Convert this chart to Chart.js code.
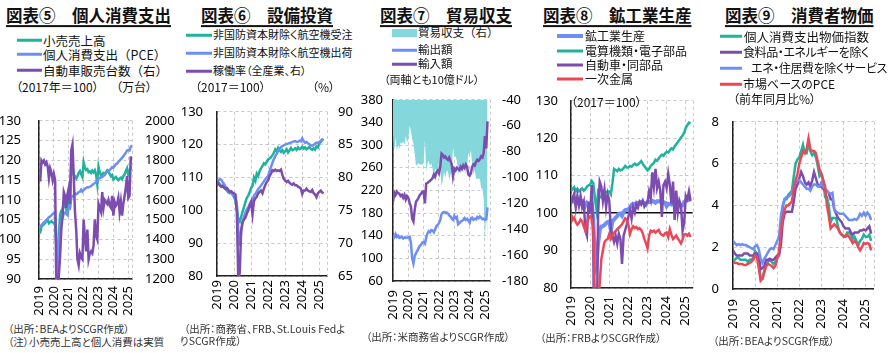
<!DOCTYPE html>
<html>
<head>
<meta charset="utf-8">
<script src="https://cdn.jsdelivr.net/npm/chart.js@4.4.1/dist/chart.umd.min.js"></script>
<style>
body{margin:0;width:892px;height:353px;position:relative;background:#fff;overflow:hidden;
  font-family:"Noto Sans CJK JP",sans-serif;color:#111}
canvas{position:absolute}
.t{position:absolute;white-space:nowrap;line-height:1.2;transform:translateY(-50%);font-size:12px}
.p{font-feature-settings:"palt"}
.ttl{font-size:16.5px;font-weight:bold;text-decoration:underline;text-decoration-thickness:1.5px;text-underline-offset:3px}
.sw{position:absolute;height:2.5px;transform:translateY(-50%)}
.src{font-size:10.5px;color:#333;font-feature-settings:"palt"}
</style>
</head>
<body>
<canvas id="c1" width="180" height="225" style="left:0;top:95px"></canvas>
<canvas id="c2" width="180" height="232" style="left:180px;top:90px"></canvas>
<canvas id="c3" width="175" height="245" style="left:360px;top:80px"></canvas>
<canvas id="c4" width="175" height="250" style="left:535px;top:80px"></canvas>
<canvas id="c5" width="182" height="232" style="left:710px;top:100px"></canvas>

<!-- 図表⑤ -->
<div class="t ttl" style="left:6px;top:16px">図表⑤　個人消費支出</div>
<div class="sw" style="left:17px;width:25px;top:40px;background:#1db39c"></div>
<div class="t" style="left:43px;top:40px;font-size:12.5px">小売売上高</div>
<div class="sw" style="left:17px;width:25px;top:54px;background:#6e8ef5"></div>
<div class="t" style="left:43px;top:54px;font-size:12.5px">個人消費支出（PCE）</div>
<div class="sw" style="left:17px;width:25px;top:70px;background:#7d4cb0"></div>
<div class="t" style="left:43px;top:70px;font-size:12.5px">自動車販売台数（右）</div>
<div class="t p" style="left:16px;top:87px">（2017年＝100）</div>
<div class="t p" style="left:116px;top:87px">（万台）</div>
<div class="t src" style="left:8px;top:329px">（出所：BEAよりSCGR作成）</div>
<div class="t src" style="left:8px;top:342px">（注）小売売上高と個人消費は実質</div>

<!-- 図表⑥ -->
<div class="t ttl" style="left:201px;top:16px">図表⑥　設備投資</div>
<div class="sw" style="left:186px;width:26px;top:35px;background:#1db39c"></div>
<div class="t p" style="left:213px;top:35px;font-size:11px">非国防資本財除く航空機受注</div>
<div class="sw" style="left:186px;width:26px;top:53px;background:#6e8ef5"></div>
<div class="t p" style="left:213px;top:53px;font-size:11px">非国防資本財除く航空機出荷</div>
<div class="sw" style="left:186px;width:26px;top:71px;background:#7d4cb0"></div>
<div class="t p" style="left:213px;top:71px;font-size:11px">稼働率（全産業、右）</div>
<div class="t p" style="left:195px;top:87px">（2017＝100）</div>
<div class="t p" style="left:312px;top:87px">（%）</div>
<div class="t src" style="left:184px;top:329px">（出所：商務省、FRB、St.Louis Fedよ</div>
<div class="t src" style="left:180px;top:341px">りSCGR作成）</div>

<!-- 図表⑦ -->
<div class="t ttl" style="left:380px;top:16px">図表⑦　貿易収支</div>
<div class="sw" style="left:392px;width:25px;height:8px;top:33px;background:#84d8dc"></div>
<div class="t" style="left:418px;top:33px;font-size:11.5px">貿易収支（右）</div>
<div class="sw" style="left:392px;width:25px;top:50px;background:#6e8ef5"></div>
<div class="t" style="left:418px;top:50px;font-size:11.5px">輸出額</div>
<div class="sw" style="left:392px;width:25px;top:64px;background:#7d4cb0"></div>
<div class="t" style="left:418px;top:64px;font-size:11.5px">輸入額</div>
<div class="t p" style="left:384px;top:80px;font-size:11px">（両軸とも10億ドル）</div>
<div class="t src" style="left:366px;top:337px">（出所：米商務省よりSCGR作成）</div>

<!-- 図表⑧ -->
<div class="t ttl" style="left:543px;top:16px">図表⑧　鉱工業生産</div>
<div class="sw" style="left:557px;width:26px;height:4px;top:36px;background:#6e8ef5"></div>
<div class="t" style="left:585px;top:36px">鉱工業生産</div>
<div class="sw" style="left:557px;width:26px;height:3px;top:51px;background:#1db39c"></div>
<div class="t p" style="left:585px;top:51px">電算機類・電子部品</div>
<div class="sw" style="left:557px;width:26px;height:3px;top:65px;background:#7d4cb0"></div>
<div class="t p" style="left:585px;top:65px">自動車・同部品</div>
<div class="sw" style="left:557px;width:26px;height:3px;top:79px;background:#ec4757"></div>
<div class="t" style="left:585px;top:79px">一次金属</div>
<div class="t p" style="left:571px;top:102px">（2017＝100）</div>
<div class="t src" style="left:540px;top:338px">（出所：FRBよりSCGR作成）</div>

<!-- 図表⑨ -->
<div class="t ttl" style="left:725px;top:16px">図表⑨　消費者物価</div>
<div class="sw" style="left:720px;width:22px;top:36px;background:#1db39c"></div>
<div class="t" style="left:744px;top:36px;font-size:12.5px">個人消費支出物価指数</div>
<div class="sw" style="left:720px;width:22px;top:52px;background:#7d4cb0"></div>
<div class="t p" style="left:743px;top:52px;letter-spacing:-0.4px">食料品・エネルギーを除く</div>
<div class="sw" style="left:720px;width:22px;top:68px;background:#6e8ef5"></div>
<div class="t p" style="left:751px;top:68px;letter-spacing:-0.4px">エネ・住居費を除くサービス</div>
<div class="sw" style="left:720px;width:22px;top:84px;background:#ec4757"></div>
<div class="t p" style="left:743px;top:84px">市場ベースのPCE</div>
<div class="t p" style="left:733px;top:99px">（前年同月比%）</div>
<div class="t src" style="left:713px;top:341px">（出所：BEAよりSCGR作成）</div>

<script>
// 月次データ（2019年1月～）
// 図表⑤ 個人消費支出
const retailSales = [
  101.5, 101.8, 103.2, 103.6, 103.8, 104.2, 104.6, 104.9, 104.1, 104.4, 104.6, 104.3,
  104.2, 103.8, 98.0, 87.0, 101.0, 106.3, 107.2, 107.6, 109.0, 108.7, 107.5, 106.8,
  112.0, 108.0, 119.3, 118.5, 116.3, 116.0, 115.4, 116.0, 116.8, 117.3, 116.5, 115.8,
  119.5, 118.2, 117.6, 117.8, 117.0, 117.2, 116.8, 117.4, 117.0, 117.5, 116.4, 114.0,
  118.4, 117.0, 116.2, 116.4, 116.8, 116.6, 117.0, 117.5, 117.2, 116.6, 116.0, 116.3,
  115.2, 115.5, 115.8, 115.3, 115.0, 115.4, 115.6, 115.2, 116.0, 116.4, 117.3, 118.0,
  116.4, 116.9, 118.3, 118.2
];
const realPce = [
  103.0, 103.3, 103.6, 104.0, 104.3, 104.6, 104.9, 105.3, 105.6, 105.8, 106.1, 106.4,
  106.7, 106.8, 100.5, 89.5, 97.5, 103.0, 104.5, 105.5, 106.5, 106.8, 106.5, 106.2,
  108.3, 108.0, 110.5, 111.0, 111.0, 111.6, 111.4, 111.6, 112.0, 112.1, 112.6, 112.1,
  112.5, 112.8, 113.0, 113.2, 113.2, 113.3, 113.5, 113.8, 114.0, 114.3, 114.5, 114.6,
  115.6, 115.5, 115.7, 115.8, 116.1, 116.3, 116.8, 117.1, 117.4, 117.5, 117.9, 118.3,
  118.2, 118.6, 119.0, 119.2, 119.6, 119.9, 120.3, 120.6, 121.0, 121.5, 121.9, 122.5,
  122.6, 122.5, 123.4, 123.8
];
const autoSales = [ // 万台（右軸）
  1700, 1700, 1800, 1790, 1800, 1780, 1790, 1770, 1710, 1760, 1740, 1700,
  1730, 1700, 1140, 870, 1220, 1310, 1450, 1520, 1640, 1620, 1560, 1630,
  1660, 1580, 1850, 1880, 1720, 1540, 1450, 1300, 1270, 1330, 1310, 1300,
  1500, 1410, 1340, 1450, 1300, 1330, 1340, 1330, 1370, 1500, 1420, 1400,
  1580, 1560, 1540, 1640, 1560, 1600, 1590, 1580, 1600, 1570, 1560, 1620,
  1520, 1590, 1570, 1580, 1610, 1540, 1590, 1520, 1580, 1620, 1660, 1720,
  1610, 1620, 1820, 1780
];

// 図表⑥ 設備投資
const coreOrders = [
  108.8, 108.5, 108.0, 107.3, 107.5, 106.8, 106.5, 106.0, 105.5, 105.2, 105.6, 104.8,
  104.0, 103.0, 100.5, 97.0, 96.5, 98.0, 99.5, 101.0, 102.5, 103.8, 104.5, 105.5,
  106.8, 107.5, 110.0, 109.0, 111.2, 110.5, 112.0, 112.8, 113.5, 114.3, 114.0, 114.8,
  115.5, 115.8, 116.2, 116.8, 117.5, 118.6, 118.0, 119.0, 118.2, 117.8, 118.3, 117.5,
  118.0, 118.6, 117.6, 118.2, 119.0, 118.3, 118.5, 118.9, 118.4, 119.2, 118.6, 118.8,
  119.4, 118.8, 119.2, 118.6, 118.9, 119.3, 118.7, 118.4, 118.9, 118.5, 119.5, 119.2,
  120.3, 120.8, 121.5, 121.3
];
const coreShipments = [
  108.5, 109.2, 109.5, 109.3, 108.5, 108.0, 107.2, 106.6, 106.0, 105.5, 105.2, 104.8,
  104.6, 104.2, 101.5, 94.0, 89.2, 93.5, 96.5, 98.0, 99.3, 100.2, 101.0, 101.8,
  102.6, 103.2, 104.5, 105.0, 105.8, 106.5, 107.0, 107.6, 108.2, 108.8, 109.5, 110.0,
  110.5, 112.0, 113.2, 114.5, 115.6, 116.5, 117.2, 118.0, 118.8, 119.2, 119.6, 119.8,
  120.0, 120.2, 120.3, 120.5, 120.6, 120.8, 121.0, 121.1, 120.8, 120.9, 121.2, 121.0,
  121.9, 121.0, 120.6, 120.8, 120.4, 120.1, 119.8, 119.7, 119.9, 120.3, 120.6, 120.5,
  120.8, 121.2, 121.5, 121.4
];
const capUtil = [ // %（右軸）
  79.5, 79.0, 78.8, 78.6, 78.7, 78.5, 78.3, 78.4, 78.1, 77.8, 77.9, 77.7,
  77.6, 77.4, 74.5, 64.2, 65.5, 72.0, 73.2, 73.6, 73.9, 74.5, 75.0, 75.8,
  76.3, 74.4, 76.4, 76.8, 77.1, 77.6, 77.8, 78.0, 77.6, 78.3, 78.9, 79.3,
  79.6, 80.2, 80.6, 81.1, 81.0, 81.2, 81.0, 81.1, 81.0, 81.2, 80.4, 79.8,
  79.5, 79.3, 79.5, 79.2, 79.0, 78.9, 79.1, 78.8, 78.8, 78.6, 78.5, 78.3,
  77.5, 78.0, 78.0, 78.3, 78.0, 77.9, 77.8, 78.1, 77.6, 77.4, 77.0, 77.6,
  77.8, 78.0, 77.7, 77.6
];

// 図表⑦ 貿易収支（10億ドル）
const exportsBn = [
  134, 137, 143, 138, 140, 136, 137, 138, 135, 137, 136, 137,
  137, 138, 128, 100, 91, 104, 109, 113, 118, 122, 124, 128,
  129, 126, 137, 144, 148, 146, 150, 149, 146, 151, 157, 159,
  162, 168, 178, 181, 182, 180, 181, 179, 176, 174, 170, 168,
  175, 171, 173, 160, 162, 165, 166, 168, 171, 168, 170, 167,
  163, 171, 172, 168, 170, 169, 173, 171, 174, 172, 169, 170,
  168, 169, 190
];
const importsBn = [
  200, 216, 212, 218, 215, 214, 210, 212, 207, 212, 204, 210,
  207, 198, 192, 170, 165, 186, 200, 203, 207, 212, 214, 218,
  218, 197, 232, 233, 235, 237, 239, 242, 248, 244, 252, 255,
  250, 262, 285, 283, 278, 280, 276, 274, 278, 272, 266, 245,
  258, 255, 260, 258, 256, 262, 258, 264, 260, 266, 262, 248,
  246, 250, 262, 266, 264, 270, 274, 272, 275, 280, 278, 286,
  316, 294, 342
];
const tradeBalance = [ // 右軸
  -66, -79, -69, -80, -75, -78, -73, -74, -72, -75, -68, -73,
  -70, -60, -64, -70, -74, -82, -91, -90, -89, -90, -90, -90,
  -89, -71, -95, -89, -87, -91, -89, -93, -102, -93, -95, -96,
  -88, -94, -107, -102, -96, -100, -95, -95, -102, -98, -96, -77,
  -83, -84, -87, -98, -94, -97, -92, -96, -89, -98, -92, -81,
  -83, -79, -90, -98, -94, -101, -101, -101, -101, -108, -109, -116,
  -148, -125, -152
];

// 図表⑧ 鉱工業生産（2017=100）
const indProd = [
  103.7, 103.2, 103.2, 102.6, 102.8, 102.9, 102.6, 103.2, 102.8, 102.0, 102.8, 102.6,
  102.4, 102.5, 98.2, 85.0, 86.6, 91.9, 95.5, 96.4, 96.5, 96.8, 97.3, 97.6,
  97.8, 95.5, 97.8, 98.3, 98.8, 99.2, 99.8, 99.9, 99.3, 100.3, 100.8, 100.9,
  101.0, 101.5, 102.2, 102.5, 102.5, 102.4, 102.7, 102.6, 103.0, 102.9, 102.7, 102.3,
  103.0, 103.0, 102.9, 103.3, 103.1, 102.8, 103.2, 103.2, 103.1, 102.6, 102.9, 102.8,
  101.9, 102.5, 102.4, 102.3, 102.8, 103.0, 102.4, 102.7, 102.4, 102.0, 102.1, 103.0,
  103.3, 103.6, 103.5, 103.7
];
const computersElec = [
  106.7, 106.3, 106.9, 105.9, 106.5, 105.8, 106.2, 106.6, 106.0, 106.4, 107.1, 107.4,
  107.6, 108.6, 108.0, 104.0, 100.9, 105.5, 104.5, 104.2, 104.5, 105.4, 105.6, 105.8,
  105.8, 105.0, 108.0, 111.8, 111.5, 111.2, 111.8, 111.4, 111.6, 112.0, 112.6, 112.2,
  112.2, 112.6, 112.4, 112.9, 113.2, 112.8, 113.0, 113.4, 113.9, 113.2, 112.6, 112.0,
  111.4, 111.8, 112.6, 113.0, 113.4, 114.3, 114.0, 114.6, 115.2, 115.6, 115.3, 115.9,
  116.4, 116.2, 116.8, 117.3, 117.0, 117.8, 118.4, 119.0, 119.5, 120.2, 120.7, 121.5,
  122.8, 123.5, 124.2, 124.0
];
const motorVehicles = [
  102.5, 104.0, 105.2, 101.5, 104.6, 102.0, 104.6, 101.6, 103.0, 95.5, 94.0, 102.9,
  99.9, 107.5, 93.0, 25.0, 60.0, 100.0, 108.4, 107.1, 103.3, 106.3, 101.6, 105.0,
  103.3, 95.7, 94.0, 92.3, 94.0, 91.9, 94.5, 93.1, 86.4, 94.0, 95.5, 97.0,
  99.1, 100.8, 98.5, 101.6, 100.2, 102.5, 101.5, 103.0, 102.3, 103.3, 101.8, 102.6,
  102.9, 105.8, 104.0, 110.9, 107.1, 111.8, 106.7, 108.4, 106.0, 99.0, 107.5, 108.4,
  106.7, 110.5, 107.5, 102.5, 108.4, 98.2, 106.0, 100.3, 103.3, 102.0, 95.3, 97.4,
  104.6, 103.7, 105.8, 103.3
];
const primaryMetals = [
  99.9, 98.2, 98.8, 97.6, 96.9, 97.4, 98.3, 97.8, 96.5, 95.3, 97.5, 98.6,
  99.1, 98.4, 96.0, 76.0, 74.0, 77.0, 81.0, 87.6, 90.0, 92.3, 92.8, 93.1,
  94.4, 93.1, 94.0, 94.8, 95.2, 95.7, 96.1, 96.5, 97.0, 97.8, 98.6, 98.2,
  96.9, 94.4, 95.7, 96.5, 96.0, 96.3, 95.7, 96.0, 95.5, 94.6, 93.1, 92.0,
  90.6, 94.0, 95.3, 95.0, 95.3, 94.8, 95.2, 95.5, 94.6, 94.2, 94.0, 94.6,
  94.8, 93.6, 95.7, 94.2, 93.1, 93.5, 94.0, 93.2, 92.6, 91.9, 93.0, 94.3,
  94.4, 94.0, 94.5, 93.6
];

// 図表⑨ 消費者物価（前年同月比%）
const pceIndex = [
  1.3, 1.4, 1.5, 1.5, 1.4, 1.4, 1.4, 1.4, 1.3, 1.4, 1.4, 1.5,
  1.8, 1.7, 1.3, 0.5, 0.5, 0.9, 1.1, 1.3, 1.4, 1.3, 1.2, 1.3,
  1.5, 1.7, 2.6, 3.9, 4.3, 4.3, 4.5, 4.6, 4.7, 5.4, 6.0, 6.2,
  6.3, 6.6, 6.9, 6.5, 6.5, 7.0, 6.6, 6.4, 6.5, 6.3, 5.9, 5.4,
  5.5, 5.2, 4.4, 4.4, 4.0, 3.2, 3.4, 3.4, 3.4, 3.0, 2.7, 2.6,
  2.5, 2.5, 2.7, 2.7, 2.6, 2.4, 2.5, 2.3, 2.1, 2.3, 2.4, 2.6,
  2.5, 2.5, 2.6, 2.3
];
const corePce = [
  1.85, 1.7, 1.6, 1.6, 1.6, 1.6, 1.7, 1.7, 1.7, 1.6, 1.6, 1.6,
  1.7, 1.7, 1.6, 0.95, 1.0, 1.1, 1.4, 1.4, 1.45, 1.4, 1.4, 1.5,
  1.6, 1.6, 2.1, 3.2, 3.6, 3.7, 3.7, 3.7, 3.7, 4.2, 4.8, 5.0,
  5.3, 5.6, 5.4, 5.1, 5.0, 5.1, 4.9, 5.2, 5.6, 5.3, 5.0, 4.9,
  4.9, 4.8, 4.7, 4.7, 4.6, 4.3, 4.3, 3.8, 3.6, 3.4, 3.3, 3.2,
  3.0, 2.9, 2.9, 2.9, 2.7, 2.6, 2.7, 2.7, 2.7, 2.8, 2.8, 2.85,
  2.8, 2.9, 3.0, 2.65
];
const supercore = [
  2.3, 2.2, 2.1, 2.15, 2.1, 2.15, 2.1, 2.1, 2.05, 2.0, 1.95, 1.9,
  2.05, 2.1, 1.9, 1.45, 1.25, 1.45, 1.6, 1.75, 1.9, 1.95, 1.9, 2.1,
  2.3, 2.5, 3.5, 4.0, 4.3, 4.4, 4.4, 4.5, 4.6, 4.9, 5.1, 5.2,
  5.2, 5.1, 5.0, 4.9, 4.8, 4.8, 4.7, 4.9, 5.0, 5.0, 4.9, 4.9,
  5.1, 4.9, 4.8, 4.7, 4.6, 4.55, 4.6, 3.8, 3.7, 3.65, 3.6, 3.6,
  3.6, 3.5, 3.4, 3.3, 3.3, 3.3, 3.35, 3.3, 3.4, 3.6, 3.5, 3.65,
  3.5, 3.65, 3.55, 3.3
];
const marketPce = [
  1.3, 1.25, 1.25, 1.2, 1.2, 1.2, 1.15, 1.15, 1.2, 1.25, 1.3, 1.4,
  1.6, 1.5, 1.0, 0.4, 0.5, 0.8, 1.1, 1.2, 1.15, 1.1, 1.0, 1.1,
  1.45, 1.8, 2.7, 3.4, 3.8, 4.0, 4.0, 4.1, 4.2, 4.8, 5.2, 5.5,
  6.0, 6.3, 6.6, 6.5, 6.7, 7.2, 6.7, 6.6, 6.6, 6.5, 6.1, 5.7,
  5.5, 5.2, 4.9, 4.0, 3.5, 2.9, 3.0, 3.1, 3.0, 2.9, 2.7, 2.6,
  2.55, 2.5, 2.6, 2.5, 2.35, 2.2, 2.3, 2.2, 2.0, 1.85, 2.0, 2.2,
  2.15, 2.2, 2.15, 1.85
];

const TEAL = '#1db39c', BLUE = '#6e8ef5', PURPLE = '#7d4cb0', RED = '#ec4757', CYAN = '#84d8dc';
const GRID = '#c8c8c8', AXIS = '#222';
const TICK_FONT = { family: "'Noto Sans', 'DejaVu Sans', sans-serif", size: 13 };

// 月番号 → 年（2019年1月 = 2019.0）
function toPoints(values) {
  return values.map((v, i) => ({ x: 2019 + i / 12, y: v }));
}

function line(values, color, axis, order, width) {
  return {
    data: toPoints(values), borderColor: color, backgroundColor: color,
    borderWidth: width || 2.5, pointRadius: 0, tension: 0, yAxisID: axis, order: order
  };
}

function xAxis(max, height, pad) {
  return {
    type: 'linear', min: 2019, max: max,
    afterFit: s => { s.height = height; },
    grid: { color: GRID, drawTicks: false },
    border: { color: AXIS, width: 1.5, dash: [3, 3] },
    ticks: {
      stepSize: 1, includeBounds: false, autoSkip: false,
      minRotation: 90, maxRotation: 90, padding: pad,
      color: '#000', font: TICK_FONT,
      callback: v => Number.isInteger(v) ? String(v) : ''
    }
  };
}

function leftAxis(min, max, step, width, pad) {
  return {
    position: 'left', min: min, max: max,
    afterFit: s => { s.width = width; },
    grid: { color: GRID, drawTicks: false },
    border: { color: AXIS, width: 1.5, dash: [3, 3] },
    ticks: { stepSize: step, padding: pad, color: '#000', font: TICK_FONT, callback: v => String(v) }
  };
}

function rightAxis(min, max, step, width, pad) {
  return {
    position: 'right', min: min, max: max,
    afterFit: s => { s.width = width; },
    grid: { drawOnChartArea: false, drawTicks: false },
    border: { display: false },
    ticks: { stepSize: step, padding: pad, color: '#000', font: TICK_FONT, callback: v => String(v) }
  };
}

// 右端の点線枠
const rightEdge = {
  id: 'rightEdge',
  beforeDatasetsDraw(chart) {
    const { ctx, chartArea: a } = chart;
    ctx.save();
    ctx.strokeStyle = GRID;
    ctx.lineWidth = 1;
    ctx.setLineDash([3, 3]);
    ctx.beginPath();
    ctx.moveTo(Math.round(a.right) + 0.5, a.top);
    ctx.lineTo(Math.round(a.right) + 0.5, a.bottom);
    ctx.stroke();
    ctx.restore();
  }
};

function makeChart(id, datasets, scales, padding) {
  new Chart(document.getElementById(id), {
    type: 'line',
    data: { datasets: datasets },
    options: {
      responsive: false,
      animation: false,
      layout: { padding: padding },
      plugins: { legend: { display: false }, tooltip: { enabled: false } },
      scales: scales
    },
    plugins: [rightEdge]
  });
}

// 図表⑤
makeChart('c1', [
  line(retailSales, TEAL, 'y', 3),
  line(realPce, BLUE, 'y', 2),
  line(autoSales, PURPLE, 'y2', 1)
], {
  x: xAxis(2025.25, 41, 7),
  y: leftAxis(90, 130, 5, 39, 18),
  y2: rightAxis(1200, 2000, 100, 48, 13)
}, { top: 12, left: 0, right: 0, bottom: 0 });

// 図表⑥
makeChart('c2', [
  line(coreOrders, TEAL, 'y', 3),
  line(coreShipments, BLUE, 'y', 2),
  line(capUtil, PURPLE, 'y2', 1)
], {
  x: xAxis(2025.45, 46, 4),
  y: leftAxis(80, 130, 10, 37, 14),
  y2: rightAxis(65, 90, 5, 33, 11)
}, { top: 11, left: 0, right: 0, bottom: 0 });

// 図表⑦
makeChart('c3', [
  {
    data: toPoints(tradeBalance), yAxisID: 'y2', order: 9,
    fill: 'end', backgroundColor: CYAN, borderColor: 'rgba(0,0,0,0)', borderWidth: 0,
    pointRadius: 0, tension: 0
  },
  line(exportsBn, BLUE, 'y', 2),
  line(importsBn, PURPLE, 'y', 1)
], {
  x: xAxis(2025.33, 44, 9),
  y: leftAxis(60, 380, 40, 33, 10),
  y2: rightAxis(-180, -40, 20, 45, 12)
}, { top: 11, left: 0, right: 0, bottom: 0 });

// 図表⑧（100のラインを黒の実線に）
const axis4 = leftAxis(80, 130, 10, 36, 13);
axis4.grid.color = c => (c.tick && c.tick.value === 100) ? '#111' : GRID;
axis4.grid.lineWidth = c => (c.tick && c.tick.value === 100) ? 1.5 : 1;
axis4.border.dash = c => (c.tick && c.tick.value === 100) ? [] : [3, 3];
makeChart('c4', [
  line(indProd, BLUE, 'y', 4, 4),
  line(computersElec, TEAL, 'y', 3),
  line(motorVehicles, PURPLE, 'y', 2),
  line(primaryMetals, RED, 'y', 1)
], {
  x: xAxis(2025.36, 42, 8),
  y: axis4
}, { top: 12, left: 0, right: 11, bottom: 0 });

// 図表⑨
makeChart('c5', [
  line(pceIndex, TEAL, 'y', 4),
  line(corePce, PURPLE, 'y', 3),
  line(supercore, BLUE, 'y', 2),
  line(marketPce, RED, 'y', 1)
], {
  x: xAxis(2025.36, 43, 10),
  y: leftAxis(0, 8, 2, 23, 14)
}, { top: 12, left: 0, right: 14, bottom: 0 });
</script>
</body>
</html>
